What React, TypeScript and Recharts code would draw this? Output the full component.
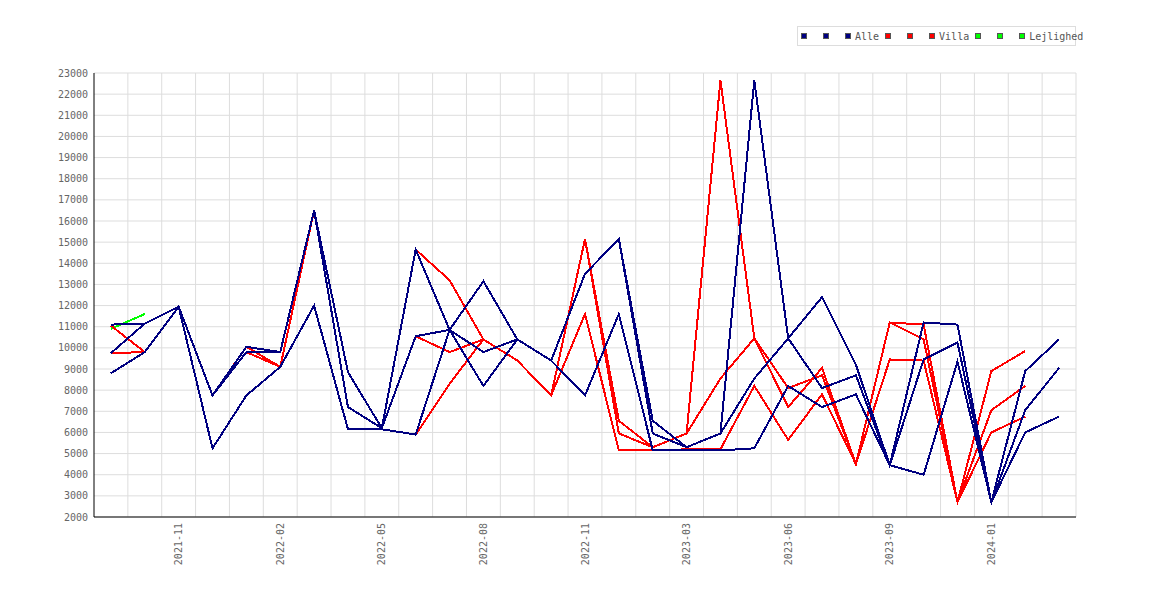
import React from 'react';
import { LineChart, Line, XAxis, YAxis, CartesianGrid } from 'recharts';

const months = [
  '2021-09', '2021-10', '2021-11', '2021-12', '2022-01', '2022-02', '2022-03', '2022-04',
  '2022-05', '2022-06', '2022-07', '2022-08', '2022-09', '2022-10', '2022-11', '2022-12',
  '2023-01', '2023-03', '2023-04', '2023-05', '2023-06', '2023-07', '2023-08', '2023-09',
  '2023-10', '2023-11', '2024-01', '2024-02', '2024-03',
];

const alle1 = [11100, 11150, 11950, 7750, 10050, 9800, 16500, 8850, 6200, 14650, 10850, 8200, 10400, 9400, 13500, 15150, 6550, 5300, 5950, 22650, 10450, 12400, 9200, 4450, 11200, 11100, 2700, 8900, 10400];
const alle2 = [9750, 11150, 11950, 7750, 9800, 9800, 16500, 7200, 6200, 10550, 10850, 9800, 10400, 9400, 13500, 15150, 5950, 5300, 5950, 8550, 10450, 8100, 8700, 4450, 9450, 10250, 2700, 7050, 9050];
const alle3 = [8800, 9800, 11950, 5250, 7750, 9100, 12000, 6150, 6150, 5900, 10850, 13150, 10400, 9400, 7750, 11600, 5150, 5150, 5150, 5250, 8200, 7200, 7800, 4450, 4000, 9350, 2700, 6000, 6750];

const villa1 = [11050, 9800, 11950, 7750, 10050, 9100, 16500, 8850, 6200, 14650, 13200, 10400, 9400, 7750, 15150, 6550, 5300, 5950, 22650, 10450, 7200, 9050, 4500, 11200, 11100, 2700, 8900, 9850, null];
const villa2 = [9750, 9800, 11950, 7750, 9800, 9100, 16500, 7200, 6200, 10550, 9800, 10400, 9400, 7750, 15150, 5950, 5300, 5950, 8550, 10450, 8100, 8700, 4500, 11200, 10400, 2700, 7050, 8200, null];
const villa3 = [8800, 9800, 11950, 5250, 7750, 9100, 12000, 6150, 6150, 5900, 8300, 10400, 9400, 7750, 11600, 5150, 5150, 5200, 5200, 8200, 5650, 7800, 4500, 9450, 9400, 2700, 6000, 6750, null];

const lejl1 = [10900, 11600, null, null, null, null, null, null, null, null, null, null, null, null, null, null, null, null, null, null, null, null, null, null, null, null, null, null, null];
const lejl2 = months.map(() => null);
const lejl3 = months.map(() => null);

const yTicks = [2000, 3000, 4000, 5000, 6000, 7000, 8000, 9000, 10000, 11000, 12000, 13000, 14000, 15000, 16000, 17000, 18000, 19000, 20000, 21000, 22000, 23000];

const NAVY = '#000080';
const RED = '#ff0000';
const GREEN = '#00ff00';

const series = [
  { key: 'alle1', values: alle1, color: NAVY, label: '' },
  { key: 'alle2', values: alle2, color: NAVY, label: '' },
  { key: 'alle3', values: alle3, color: NAVY, label: 'Alle' },
  { key: 'villa1', values: villa1, color: RED, label: '' },
  { key: 'villa2', values: villa2, color: RED, label: '' },
  { key: 'villa3', values: villa3, color: RED, label: 'Villa' },
  { key: 'lejl1', values: lejl1, color: GREEN, label: '' },
  { key: 'lejl2', values: lejl2, color: GREEN, label: '' },
  { key: 'lejl3', values: lejl3, color: GREEN, label: 'Lejlighed' },
];

const data = months.map((m, i) => {
  const row: Record<string, any> = { month: m };
  series.forEach((s) => {
    row[s.key] = s.values[i];
  });
  return row;
});

// draw order: green, red, navy on top
const drawOrder = [...series.slice(6), ...series.slice(3, 6), ...series.slice(0, 3)];

const FONT = 'DejaVu Sans Mono';

const XTick = (props: any) => {
  const { x, y, index, payload } = props;
  if (index % 3 !== 2) return null;
  return (
    <text
      transform={`translate(${x},${y - 2}) rotate(-90)`}
      textAnchor="end"
      dy="0.35em"
      fill="#666"
      fontSize={10}
      fontFamily={FONT}
    >
      {payload.value}
    </text>
  );
};

const N = months.length;

export default function App() {
  return (
    <div style={{ position: 'relative', width: 1162, height: 584 }}>
      <LineChart
        width={1162}
        height={584}
        data={data}
        margin={{ top: 65, right: 94, bottom: 0, left: 0 }}
      >
        <CartesianGrid
          stroke="#dddddd"
          verticalCoordinatesGenerator={(p: any) => {
            const off = p && p.offset ? p.offset : { left: 86, width: 982 };
            return Array.from({ length: N }, (_, k) => off.left + ((k + 1) * off.width) / N);
          }}
        />
        <XAxis
          dataKey="month"
          scale="band"
          interval={0}
          tickLine={false}
          axisLine={{ stroke: '#000' }}
          height={75}
          tick={<XTick />}
        />
        <YAxis
          type="number"
          domain={[2000, 23000]}
          ticks={yTicks}
          interval={0}
          tickLine={false}
          tickSize={6}
          tickMargin={0}
          axisLine={{ stroke: '#000' }}
          width={86}
          tick={{ fill: '#666', fontSize: 10, fontFamily: FONT }}
        />
        {drawOrder.map((s) => (
          <Line
            key={s.key}
            dataKey={s.key}
            type="linear"
            stroke={s.color}
            strokeWidth={2}
            shapeRendering="crispEdges"
            dot={false}
            activeDot={false}
            isAnimationActive={false}
          />
        ))}
      </LineChart>
      <div
        style={{
          position: 'absolute',
          left: 789.3,
          top: 18,
          width: 279,
          height: 20,
          boxSizing: 'border-box',
          border: '1px solid #dddddd',
          display: 'flex',
          alignItems: 'center',
          paddingLeft: 2.7,
          whiteSpace: 'nowrap',
          fontFamily: FONT,
          fontSize: 10,
          color: '#555',
          overflow: 'visible',
        }}
      >
        {series.map((s) => (
          <React.Fragment key={s.key}>
            <span
              style={{
                display: 'inline-block',
                flexShrink: 0,
                width: 6,
                height: 6,
                boxSizing: 'border-box',
                border: '1px solid #555',
                background: s.color,
                marginRight: s.label ? 4 : 16,
              }}
            />
            {s.label ? <span style={{ marginRight: 6, flexShrink: 0 }}>{s.label}</span> : null}
          </React.Fragment>
        ))}
      </div>
    </div>
  );
}
